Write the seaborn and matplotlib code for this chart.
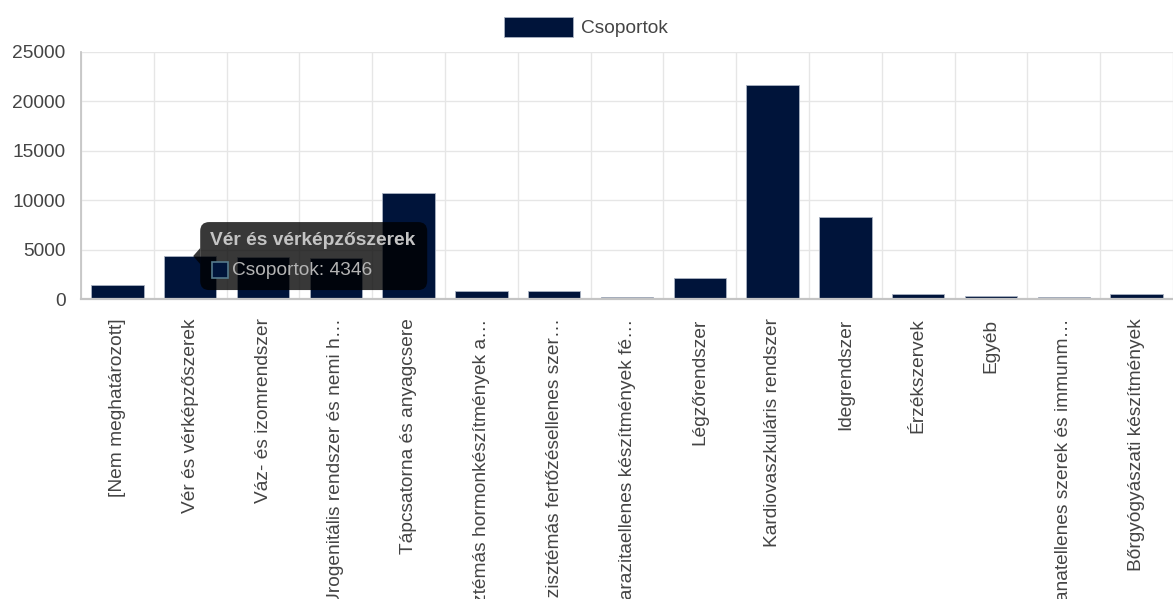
import matplotlib
matplotlib.use("Agg")
import numpy as np
import pandas as pd
import matplotlib.pyplot as plt
import seaborn as sns
from matplotlib.patches import FancyBboxPatch, Polygon, Rectangle
from matplotlib.transforms import IdentityTransform

categories = [
    "[Nem meghatározott]",
    "Vér és vérképzőszerek",
    "Váz- és izomrendszer",
    "Urogenitális rendszer és nemi h…",
    "Tápcsatorna és anyagcsere",
    "Szisztémás hormonkészítmények a…",
    "Szisztémás fertőzésellenes szer…",
    "Parazitaellenes készítmények fé…",
    "Légzőrendszer",
    "Kardiovaszkuláris rendszer",
    "Idegrendszer",
    "Érzékszervek",
    "Egyéb",
    "Daganatellenes szerek és immunm…",
    "Bőrgyógyászati készítmények",
]
values = [1450, 4346, 4300, 4200, 10700, 800, 800, 250, 2100, 21700, 8250, 500, 350, 250, 500]
series_name = "Csoportok"
y_ticks = [0, 5000, 10000, 15000, 20000, 25000]
tooltip_index = 1

W, H = 1173, 599
BAR = "#00143a"
GRID = "#e6e6e6"
TXT = "#444444"
FS = 13.8

sns.set_theme(style="white")
plt.rcParams["font.family"] = ["Liberation Sans", "DejaVu Sans"]

fig = plt.figure(figsize=(W / 100, H / 100), dpi=100)
ax = fig.add_axes([81 / W, 300 / H, (W - 81) / W, 247 / H])

df = pd.DataFrame({"kategoria": categories, "ertek": values})
sns.barplot(data=df, x="kategoria", y="ertek", color=BAR, saturation=1,
            width=0.72, edgecolor="#aab2c2", linewidth=0.6,
            label=series_name, ax=ax)
handles, labels = ax.get_legend_handles_labels()
if ax.get_legend() is not None:
    ax.get_legend().remove()

ax.set_xlim(-0.5, len(categories) - 0.5)
ax.set_ylim(0, 25000)
ax.set_yticks(y_ticks)
ax.set_xlabel("")
ax.set_ylabel("")
ax.set_xticks(np.arange(len(categories)))
ax.set_xticklabels(categories, rotation=90, color=TXT, fontsize=FS)
ax.set_xticks(np.arange(-0.5, len(categories), 1), minor=True)
for lbl in ax.get_yticklabels():
    lbl.set_color(TXT)
    lbl.set_fontsize(FS)

ax.grid(which="minor", axis="x", color=GRID, linewidth=1)
ax.grid(which="major", axis="y", color=GRID, linewidth=1)
ax.grid(which="major", axis="x", visible=False)
ax.set_axisbelow(True)
ax.tick_params(axis="x", which="major", length=0, pad=14)
ax.tick_params(axis="x", which="minor", length=10, color=GRID, width=1)
ax.tick_params(axis="y", length=0, pad=11)

for side in ["top", "right"]:
    ax.spines[side].set_visible(False)
ax.spines["left"].set_color("#c4c4c4")
ax.spines["bottom"].set_color("#c4c4c4")
ax.spines["bottom"].set_linewidth(1.6)

fig.legend(handles, labels, loc="center", bbox_to_anchor=(586 / W, 1 - 27 / H),
           frameon=False, fontsize=FS, handlelength=3.6, handleheight=1.3,
           handletextpad=0.4, labelcolor=TXT)

# tooltip hovering over the selected bar
tx, ty = ax.transData.transform((tooltip_index, values[tooltip_index]))
ident = IdentityTransform()
bw, bh = 227, 68
left = tx + 10
bottom = ty - bh / 2
box = FancyBboxPatch((left, bottom), bw, bh, boxstyle="round,pad=0,rounding_size=9",
                     facecolor="black", edgecolor="none", alpha=0.78,
                     transform=ident, zorder=10)
fig.add_artist(box)
caret = Polygon([(left, ty + 8), (tx + 3, ty), (left, ty - 8)], closed=True,
                facecolor="black", edgecolor="none", alpha=0.78,
                transform=ident, zorder=10)
fig.add_artist(caret)
top = bottom + bh
fig.text(left + 10, top - 18, categories[tooltip_index], transform=ident,
         fontsize=FS, fontweight="bold", color="#c4c4c4", va="center", ha="left",
         zorder=11)
sw = Rectangle((left + 12, top - 56), 16, 16, facecolor=BAR, edgecolor="#557a8c",
               linewidth=1.2, transform=ident, zorder=11)
fig.add_artist(sw)
fig.text(left + 32, top - 48, f"{series_name}: {values[tooltip_index]}", transform=ident,
         fontsize=FS, color="#b4b4b4", va="center", ha="left", zorder=11)

fig.savefig("out.png", dpi=100)
